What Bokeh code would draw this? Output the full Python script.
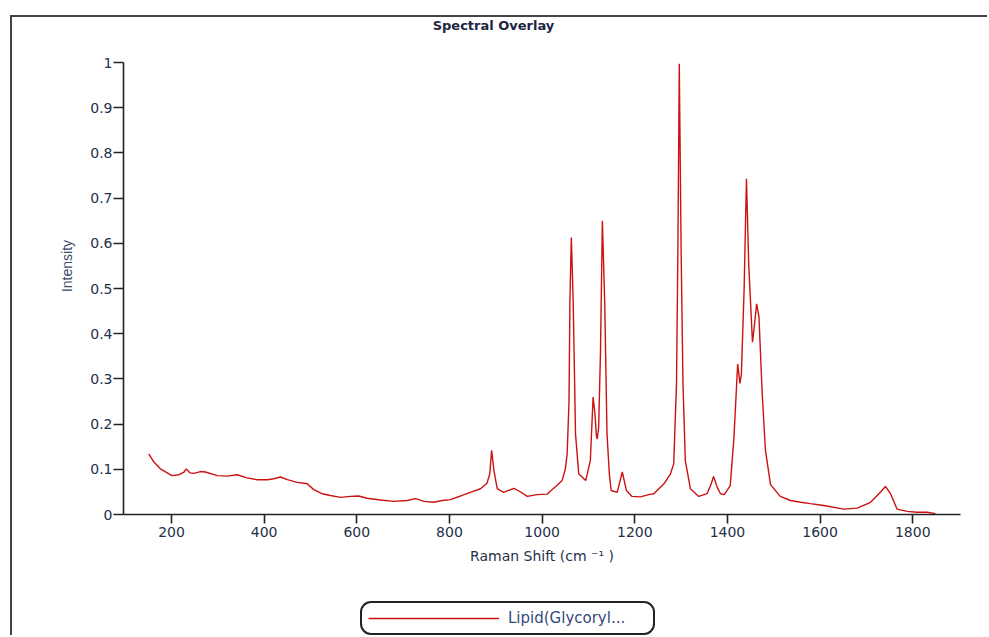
from bokeh.plotting import figure
from bokeh.layouts import column
from bokeh.models import (Range1d, FixedTicker, Legend, LegendItem, ColumnDataSource, Label)
from bokeh.embed import file_html
from bokeh.resources import INLINE

# ---- data ----
raman_shift = [151, 162, 176, 201, 216, 227, 232, 240, 248, 263, 273, 299, 320, 342,
               363, 385, 407, 421, 435, 450, 471, 486, 493, 507, 525, 543, 565, 586,
               604, 622, 651, 680, 709, 727, 745, 766, 784, 802, 824, 845, 867, 881,
               887, 891, 896, 903, 917, 939, 950, 968, 989, 1011, 1018, 1032, 1043,
               1050, 1054, 1058, 1060, 1063, 1067, 1070, 1072, 1079, 1094, 1104, 1110,
               1114, 1117, 1119, 1122, 1126, 1130, 1135, 1140, 1145, 1149, 1162, 1173,
               1182, 1194, 1212, 1230, 1241, 1263, 1277, 1284, 1290, 1293, 1296, 1300,
               1304, 1309, 1320, 1338, 1356, 1365, 1370, 1378, 1385, 1393, 1406, 1414,
               1422, 1427, 1430, 1436, 1441, 1446, 1454, 1457, 1463, 1468, 1475, 1482,
               1493, 1514, 1536, 1558, 1579, 1608, 1651, 1680, 1709, 1727, 1741, 1752,
               1766, 1788, 1809, 1831, 1849]
intensity = [0.134, 0.116, 0.101, 0.086, 0.088, 0.094, 0.101, 0.092, 0.091, 0.095, 0.094,
             0.086, 0.085, 0.088, 0.081, 0.077, 0.077, 0.079, 0.083, 0.077, 0.071, 0.069,
             0.068, 0.055, 0.046, 0.042, 0.038, 0.040, 0.041, 0.036, 0.032, 0.029, 0.031,
             0.035, 0.029, 0.027, 0.031, 0.033, 0.041, 0.049, 0.057, 0.069, 0.090, 0.142,
             0.097, 0.057, 0.049, 0.058, 0.052, 0.040, 0.044, 0.045, 0.052, 0.064, 0.075,
             0.100, 0.134, 0.250, 0.473, 0.613, 0.473, 0.300, 0.179, 0.090, 0.075, 0.119,
             0.260, 0.223, 0.175, 0.167, 0.193, 0.363, 0.650, 0.473, 0.179, 0.090, 0.053,
             0.049, 0.094, 0.053, 0.040, 0.039, 0.044, 0.046, 0.068, 0.090, 0.112, 0.289,
             0.584, 0.997, 0.584, 0.289, 0.119, 0.057, 0.040, 0.046, 0.068, 0.084, 0.060,
             0.046, 0.044, 0.064, 0.170, 0.333, 0.290, 0.310, 0.500, 0.743, 0.550, 0.381,
             0.407, 0.466, 0.437, 0.267, 0.142, 0.066, 0.040, 0.031, 0.027, 0.024, 0.020,
             0.012, 0.014, 0.027, 0.046, 0.062, 0.046, 0.012, 0.007, 0.005, 0.005, 0.002]

x_ticks = [200, 400, 600, 800, 1000, 1200, 1400, 1600, 1800]
x_tick_labels = ["200", "400", "600", "800", "1000", "1200", "1400", "1600", "1800"]
y_ticks = [0, 0.1, 0.2, 0.3, 0.4, 0.5, 0.6, 0.7, 0.8, 0.9, 1]
y_tick_labels = ["0", "0.1", "0.2", "0.3", "0.4", "0.5", "0.6", "0.7", "0.8", "0.9", "1"]

series_name = "Lipid(Glycoryl..."
title_text = "Spectral Overlay"
x_label = "Raman Shift (cm \u207b\u00b9 )"
y_label = "Intensity"

LINE_COLOR = "#cc1111"
TEXT_COLOR = "#25304a"
FONT = "DejaVu Sans"

# main chart: the plotting area reaches up to the panel top so that the
# title can sit inside it; the y axis is bounded to the data extent.
p = figure(width=975, height=560, output_backend="svg", toolbar_location=None,
           x_range=Range1d(96.4, 1903), y_range=Range1d(0, 497 / 452),
           min_border_left=111, min_border_right=27, min_border_top=0,
           min_border_bottom=63, background_fill_color="white",
           border_fill_color="white")
p.outline_line_color = None
p.xgrid.visible = False
p.ygrid.visible = False

src = ColumnDataSource(dict(x=raman_shift, y=intensity))
p.line("x", "y", source=src, line_color=LINE_COLOR, line_width=1.4)

for ax in (p.xaxis[0], p.yaxis[0]):
    ax.axis_line_color = "#222222"
    ax.axis_line_width = 1.6
    ax.major_tick_line_color = "#222222"
    ax.major_tick_line_width = 1.6
    ax.minor_tick_line_color = None
    ax.major_tick_in = 0
    ax.major_label_text_font = FONT
    ax.major_label_text_font_size = "14px"
    ax.major_label_text_color = TEXT_COLOR

p.xaxis.ticker = FixedTicker(ticks=x_ticks)
p.xaxis.major_label_overrides = dict(zip(x_ticks, x_tick_labels))
p.xaxis.major_tick_out = 9
p.xaxis.major_label_standoff = 3
p.xaxis.axis_label = x_label
p.xaxis.axis_label_text_font = FONT
p.xaxis.axis_label_text_font_style = "normal"
p.xaxis.axis_label_text_font_size = "14px"
p.xaxis.axis_label_text_color = TEXT_COLOR
p.xaxis.axis_label_standoff = 8

p.yaxis.ticker = FixedTicker(ticks=y_ticks)
p.yaxis.bounds = (0, 1)
p.yaxis.major_label_overrides = dict(zip(y_ticks, y_tick_labels))
p.yaxis.major_tick_out = 10
p.yaxis.major_label_standoff = 1
p.yaxis.axis_label = y_label
p.yaxis.axis_label_text_font = "Liberation Sans"
p.yaxis.axis_label_text_font_style = "normal"
p.yaxis.axis_label_text_font_size = "14px"
p.yaxis.axis_label_text_color = "#3b4a66"
p.yaxis.axis_label_standoff = 12

p.add_layout(Label(x=895, y=(497 - 8) / 452, text=title_text, text_align="center",
                   text_baseline="middle", text_font=FONT, text_font_size="13px",
                   text_font_style="bold", text_color="#1c2541"))

# legend strip below the chart (its own copy of the series sits outside its view,
# it only supplies the legend sample line)
lf = figure(width=975, height=58, output_backend="svg", toolbar_location=None,
            x_axis_type=None, y_axis_type=None, min_border=0,
            x_range=Range1d(96.4, 1903), y_range=Range1d(5, 6),
            background_fill_color="white", border_fill_color="white")
lf.outline_line_color = None
lf.xgrid.visible = False
lf.ygrid.visible = False
sample = lf.line("x", "y", source=src, line_color=LINE_COLOR, line_width=1.4)

legend = Legend(items=[LegendItem(label=series_name, renderers=[sample])],
                location=(237, 0), orientation="horizontal",
                glyph_width=131, glyph_height=14, label_height=14,
                label_width=139, label_standoff=9, padding=6, margin=0,
                border_line_color="#222222", border_line_width=2,
                border_line_alpha=1.0,
                label_text_font=FONT, label_text_font_size="15px",
                label_text_color="#34497a", background_fill_color="white")
try:
    legend.border_radius = 11
except Exception:
    pass
lf.add_layout(legend, "center")

layout = column(p, lf, margin=(15, 0, 0, 10), spacing=0)
layout.styles = {"border-top": "2px solid #444444", "border-left": "2px solid #444444"}

open("out.html", "w").write(file_html(layout, INLINE))
